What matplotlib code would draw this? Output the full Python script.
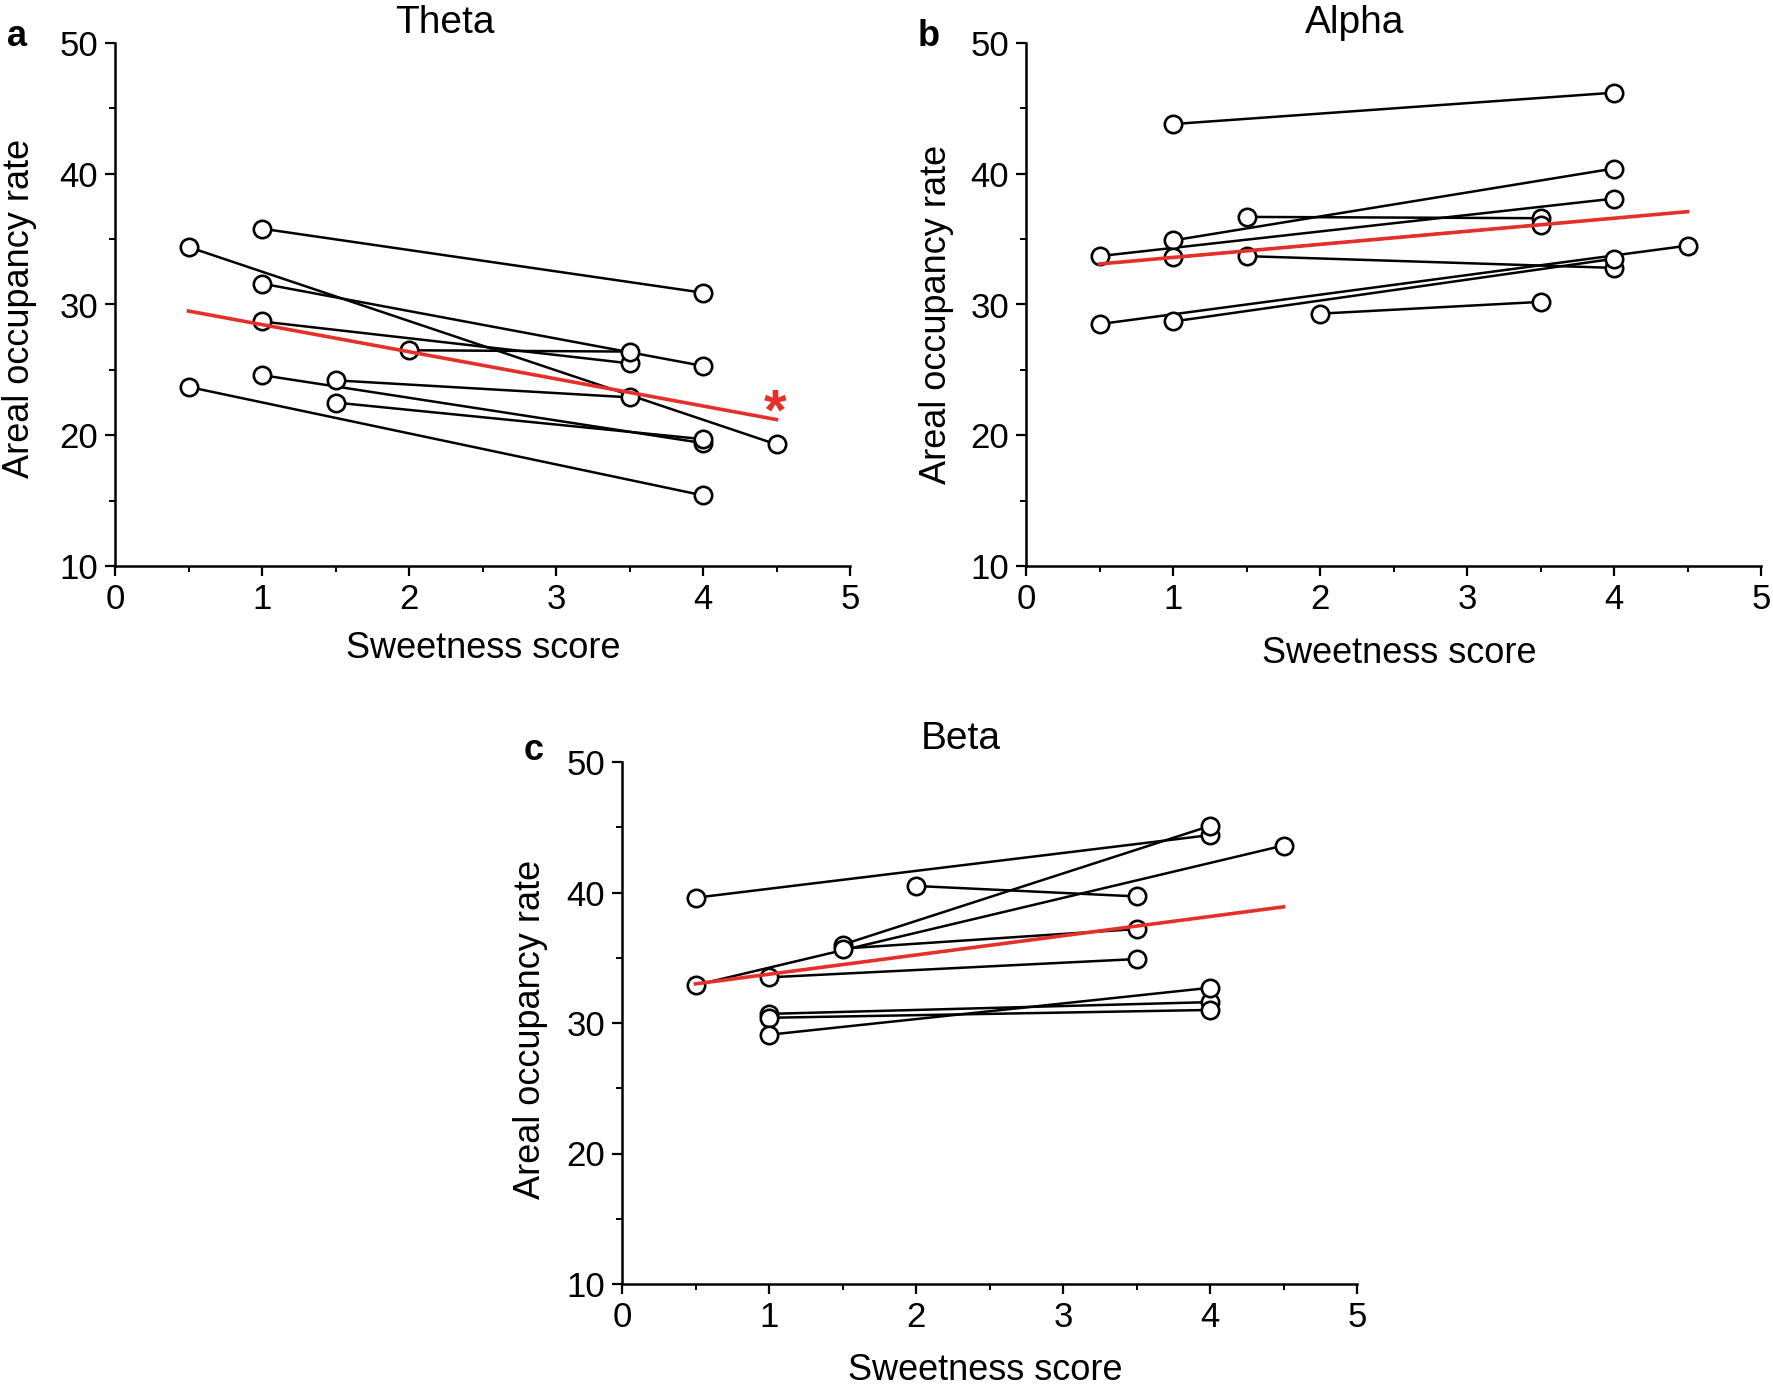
import matplotlib

matplotlib.use("Agg")
import matplotlib.pyplot as plt
from matplotlib.ticker import MultipleLocator

W, H = 1773, 1395

# paired observations: (x_start, y_start, x_end, y_end)
theta_pairs = [
    (1.0, 35.8, 4.0, 30.9),
    (0.5, 34.4, 4.5, 19.3),
    (1.0, 31.6, 4.0, 25.3),
    (1.0, 28.7, 3.5, 25.5),
    (2.0, 26.5, 3.5, 26.4),
    (1.0, 24.6, 4.0, 19.4),
    (1.5, 24.2, 3.5, 22.9),
    (1.5, 22.5, 4.0, 19.7),
    (0.5, 23.7, 4.0, 15.4),
]
theta_fit = (0.5, 29.5, 4.5, 21.2)

alpha_pairs = [
    (1.0, 43.8, 4.0, 46.2),
    (1.0, 34.9, 4.0, 40.4),
    (0.5, 33.7, 4.0, 38.1),
    (1.5, 36.7, 3.5, 36.6),
    (1.0, 33.6, 3.5, 36.1),
    (1.5, 33.7, 4.0, 32.8),
    (0.5, 28.5, 4.5, 34.5),
    (1.0, 28.7, 4.0, 33.5),
    (2.0, 29.3, 3.5, 30.2),
]
alpha_fit = (0.5, 33.1, 4.5, 37.1)

beta_pairs = [
    (0.5, 39.6, 4.0, 44.4),
    (2.0, 40.5, 3.5, 39.7),
    (1.5, 36.0, 4.0, 45.1),
    (0.5, 32.9, 4.5, 43.6),
    (1.5, 35.7, 3.5, 37.2),
    (1.0, 33.5, 3.5, 34.9),
    (1.0, 30.7, 4.0, 31.6),
    (1.0, 30.4, 4.0, 31.0),
    (1.0, 29.1, 4.0, 32.7),
]
beta_fit = (0.5, 33.0, 4.5, 38.9)

RED = "#e5302a"
plt.rcParams["font.family"] = ["Liberation Sans", "DejaVu Sans"]


def px(x, y):
    return x / W, 1 - y / H


def draw_panel(ax, pairs, fit):
    for x0, y0, x1, y1 in pairs:
        ax.plot([x0, x1], [y0, y1], color="black", lw=1.8, zorder=2)
    xs = [p[0] for p in pairs] + [p[2] for p in pairs]
    ys = [p[1] for p in pairs] + [p[3] for p in pairs]
    ax.plot(xs, ys, "o", ms=12.5, mfc="white", mec="black", mew=1.9, zorder=3)
    ax.plot([fit[0], fit[2]], [fit[1], fit[3]], color=RED, lw=2.6, zorder=4)
    ax.set_xlim(0, 5)
    ax.set_ylim(10, 50)
    ax.xaxis.set_major_locator(MultipleLocator(1))
    ax.xaxis.set_minor_locator(MultipleLocator(0.5))
    ax.yaxis.set_major_locator(MultipleLocator(10))
    ax.yaxis.set_minor_locator(MultipleLocator(5))
    for s in ["top", "right"]:
        ax.spines[s].set_visible(False)
    for s in ["left", "bottom"]:
        ax.spines[s].set_linewidth(1.8)
    ax.tick_params(which="major", length=7, width=1.6, labelsize=25, pad=5)
    ax.tick_params(which="minor", length=4, width=1.4)
    for ln in ax.lines:
        ln.set_clip_on(False)


fig = plt.figure(figsize=(W / 100, H / 100), dpi=100)

ax_a = fig.add_axes([115 / W, 1 - 566 / H, 735 / W, 523 / H])
ax_b = fig.add_axes([1026 / W, 1 - 566 / H, 735 / W, 523 / H])
ax_c = fig.add_axes([622 / W, 1 - 1284 / H, 735 / W, 522 / H])

draw_panel(ax_a, theta_pairs, theta_fit)
draw_panel(ax_b, alpha_pairs, alpha_fit)
draw_panel(ax_c, beta_pairs, beta_fit)

ax_a.text(4.49, 21.6, "*", color=RED, fontsize=42, fontweight="bold",
          ha="center", va="center")

ttl = dict(fontsize=28, ha="center", va="center")
fig.text(*px(445, 23), "Theta", **ttl)
fig.text(*px(1355, 23), "Alpha", **ttl)
fig.text(*px(961, 739), "Beta", **ttl)

lab = dict(fontsize=26, ha="center", va="center")
fig.text(*px(483, 649), "Sweetness score", **lab)
fig.text(*px(1399, 654), "Sweetness score", **lab)
fig.text(*px(985, 1371), "Sweetness score", **lab)

fig.text(*px(20, 308), "Areal occupancy rate", rotation=90, **lab)
fig.text(*px(937, 314), "Areal occupancy rate", rotation=90, **lab)
fig.text(*px(531, 1029), "Areal occupancy rate", rotation=90, **lab)

let = dict(fontsize=26, fontweight="bold", ha="center", va="center")
fig.text(*px(17, 37), "a", **let)
fig.text(*px(929, 37), "b", **let)
fig.text(*px(534, 751), "c", **let)

fig.savefig("out.png", dpi=100)
